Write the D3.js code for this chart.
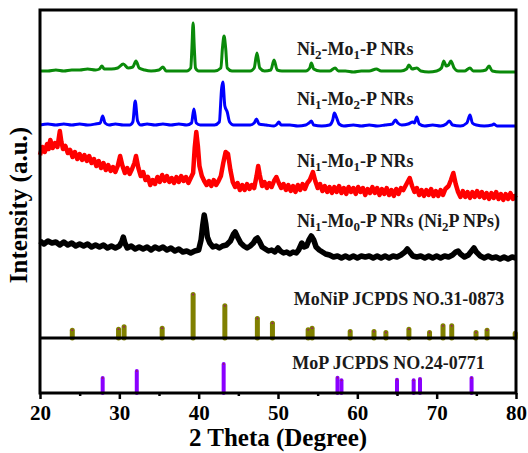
<!DOCTYPE html>
<html>
<head>
<meta charset="utf-8">
<script src="https://cdn.jsdelivr.net/npm/d3@7"></script>
<style>
  body { margin: 0; background: #fff; }
  text { font-family: "Liberation Serif", "Times New Roman", serif; font-weight: bold; }
</style>
</head>
<body>
<script>
// XRD patterns, [2theta, intensity (a.u., stacked)]
const green = [[20,267],[21,267],[22,268],[23,267],[24,268],[25,268],[26,269],[27,268],[27.5,269],[27.8,272],[28.1,269],[29,269],[29.8,270],[30.5,274],[31.1,270],[31.7,271],[32.1,277],[32.5,270],[33.2,268],[34,267],[35,268],[35.5,271],[35.9,267],[36.5,267],[37.5,267],[38.5,267],[39,270],[39.15,290],[39.3,315],[39.45,290],[39.6,270],[40,267],[41,267],[42,267],[42.8,270],[43,290],[43.2,302],[43.4,290],[43.6,270],[44.2,267],[45.5,267],[46.5,267],[47,270],[47.35,285],[47.7,270],[48.3,267],[49.1,268],[49.5,278],[49.9,268],[50.5,267],[51.5,267],[52.5,267],[53.5,267],[54,270],[54.2,275],[54.5,269],[55.3,267],[56.5,267],[57.2,270],[57.6,267],[58.5,267],[59.5,266],[60.5,267],[61.5,267],[62.4,269],[63,267],[64.5,267],[65.5,267],[66.2,269],[66.5,273],[66.9,269],[67.5,270],[68,267],[69,266],[70,267],[70.6,270],[70.9,277],[71.2,272],[71.5,273],[71.8,277],[72.2,270],[72.7,267],[73.5,267],[74.2,270],[74.6,267],[75.5,267],[76.2,268],[76.6,272],[77,267],[78,266],[79,266],[80,266]];

const blue = [[20,213],[21,214],[22,213],[23,214],[24,213],[25,214],[26,213],[27,214],[27.6,215],[27.9,222],[28.2,215],[28.7,213],[29.5,214],[30.5,213],[31.3,213],[31.7,216],[32,237],[32.3,217],[32.7,213],[33.5,214],[34.5,213],[35.5,214],[36.5,213],[37.5,214],[38.5,213],[39.1,215],[39.4,229],[39.7,215],[40.2,213],[41,213],[42,213],[42.6,216],[42.9,250],[43.05,256],[43.3,232],[43.6,226],[43.9,216],[44.4,213],[45.5,213],[46.5,213],[47,215],[47.3,219],[47.6,214],[48.5,213],[49.5,212],[49.9,214],[50.1,216],[50.4,213],[51.5,213],[52.5,212],[53.5,213],[53.9,215],[54.2,217],[54.5,213],[55.5,212],[56.5,213],[56.9,218],[57.1,225],[57.4,220],[57.7,214],[58.3,212],[59.5,213],[60.5,212],[61.5,213],[62.5,212],[63.5,213],[64.4,214],[64.8,218],[65.1,215],[65.6,213],[66.4,214],[67.0,216],[67.2,215],[67.5,221],[67.8,214],[68.5,212],[69.5,213],[70.5,212],[71.2,214],[71.6,217],[72,213],[73,212],[73.8,215],[74.2,223],[74.5,215],[75,213],[76,212],[77,213],[77.2,214],[77.6,212],[78.5,212],[79.5,212],[80,212]];

const red = [[20.0,183],[20.3,191],[20.6,186],[20.9,194],[21.1,189],[21.3,198],[21.6,190],[21.9,195],[22.2,191],[22.5,207],[22.7,196],[22.9,189],[23.2,192],[23.5,185],[23.8,188],[24.1,181],[24.4,186],[24.7,179],[25.0,184],[25.3,178],[25.6,183],[25.9,177],[26.2,182],[26.5,175],[26.8,179],[27.1,172],[27.4,177],[27.7,170],[28.0,175],[28.3,168],[28.6,173],[28.9,167],[29.2,171],[29.5,166],[29.8,172],[30.1,182],[30.4,172],[30.7,165],[31.0,170],[31.3,164],[31.6,169],[31.9,175],[32.1,182],[32.4,170],[32.7,162],[33.0,166],[33.3,158],[33.6,161],[33.9,153],[34.2,158],[34.5,154],[34.8,161],[35.1,156],[35.4,163],[35.7,157],[36.0,162],[36.3,156],[36.6,160],[36.9,155],[37.2,161],[37.5,156],[37.8,162],[38.1,157],[38.4,161],[38.7,155],[39.0,160],[39.3,165],[39.5,190],[39.7,206],[39.9,192],[40.1,172],[40.4,162],[40.7,157],[41.0,153],[41.3,157],[41.6,152],[41.9,158],[42.2,153],[42.5,157],[42.8,162],[43.1,175],[43.4,186],[43.7,184],[44.0,168],[44.3,156],[44.6,151],[44.9,155],[45.2,148],[45.5,153],[45.8,148],[46.1,154],[46.4,149],[46.7,153],[47.0,150],[47.3,162],[47.5,172],[47.7,163],[48.0,152],[48.3,156],[48.6,150],[48.9,155],[49.2,151],[49.5,157],[49.8,161],[50.1,155],[50.4,150],[50.7,154],[51.0,148],[51.3,153],[51.6,147],[51.9,152],[52.2,146],[52.5,153],[52.8,148],[53.1,154],[53.4,149],[53.7,155],[54.0,158],[54.4,166],[54.7,157],[55.0,150],[55.3,154],[55.6,147],[55.9,152],[56.2,146],[56.5,151],[56.8,145],[57.1,151],[57.4,146],[57.7,152],[58.0,145],[58.3,150],[58.6,144],[58.9,151],[59.2,146],[59.5,150],[59.8,144],[60.1,151],[60.4,146],[60.7,150],[61.0,143],[61.3,149],[61.6,145],[61.9,151],[62.2,145],[62.5,150],[62.8,143],[63.1,149],[63.4,144],[63.7,150],[64.0,143],[64.3,148],[64.6,142],[64.9,149],[65.2,144],[65.5,150],[65.8,148],[66.2,154],[66.6,160],[66.9,152],[67.2,146],[67.5,150],[67.8,143],[68.1,148],[68.4,142],[68.7,148],[69.0,143],[69.3,149],[69.6,142],[69.9,147],[70.2,142],[70.5,148],[70.8,143],[71.1,149],[71.5,152],[71.8,158],[72.1,165],[72.4,154],[72.7,146],[73.0,141],[73.3,147],[73.6,141],[73.9,146],[74.2,140],[74.5,146],[74.8,141],[75.1,147],[75.4,141],[75.7,146],[76.0,140],[76.3,145],[76.6,139],[76.9,145],[77.2,140],[77.5,146],[77.8,139],[78.1,144],[78.4,138],[78.7,144],[79.0,139],[79.3,145],[79.6,139],[80.0,143]];

const black = [[20,97],[20.5,94],[21,97],[21.5,95],[22,96],[22.5,93],[23,96],[23.5,93],[24,95],[24.5,92],[25,94],[25.5,92],[26,94],[26.5,91],[27,93],[27.5,91],[28,93],[28.5,90],[29,92],[29.5,90],[30,92],[30.3,96],[30.5,101],[30.7,95],[31,90],[31.5,92],[32,89],[32.5,91],[33,89],[33.5,91],[34,88],[34.5,91],[35,89],[35.5,91],[36,88],[36.5,90],[37,87],[37.5,89],[38,86],[38.5,87],[39,85],[39.5,87],[40,88],[40.3,98],[40.5,112],[40.7,123],[40.9,114],[41.1,101],[41.4,95],[41.8,91],[42.2,92],[42.6,90],[43,92],[43.5,93],[44,97],[44.4,104],[44.6,106],[44.9,101],[45.3,95],[45.7,92],[46.1,90],[46.5,92],[46.9,95],[47.2,99],[47.4,100],[47.7,96],[48,91],[48.4,89],[48.8,87],[49.2,88],[49.6,86],[50,90],[50.3,87],[50.7,85],[51.1,86],[51.5,84],[51.9,86],[52.3,85],[52.6,88],[53,95],[53.3,91],[53.6,92],[53.9,98],[54.2,102],[54.5,98],[54.8,91],[55.2,88],[55.6,86],[56,84],[56.5,83],[57,81],[57.5,82],[58,80],[58.5,82],[59,80],[59.5,82],[60,80],[60.5,82],[61,81],[61.5,82],[62,80],[62.5,82],[63,80],[63.5,82],[64,80],[64.5,82],[65,81],[65.5,83],[66,86],[66.3,89],[66.6,86],[67,82],[67.5,81],[68,82],[68.5,80],[69,82],[69.5,80],[70,82],[70.5,80],[71,82],[71.5,81],[72,83],[72.4,86],[72.7,87],[73,84],[73.5,81],[74,83],[74.4,87],[74.7,90],[75,86],[75.5,82],[76,80],[76.5,82],[77,80],[77.5,81],[78,79],[78.5,81],[79,79],[79.5,81],[80,80]];

// reference cards
const monipPos = [24.07,29.9,30.6,35.4,39.3,43.3,47.4,49.3,53.8,54.3,59.1,62.1,63.6,66.5,69.1,70.8,71.9,74.96,76.35,79.9];
const monipInt = [10.3,11.3,13.7,12.3,46,34.7,22,17.3,10.7,12.3,9,9,8,11.3,8,14.7,14.7,8,10.3,7.3];
const mopPos = [27.9,32.2,43.15,57.5,58.0,65.0,67.1,67.9,74.4];
const mopInt = [17,24,31,17.3,14.7,15.3,14.7,16,17];

const xTicks = [20,30,40,50,60,70,80];
const xMinor = [25,35,45,55,65,75];

const W = 528, H = 453;
const pL = 40, pR = 516, pT = 10, pMid = 338, pB = 393;

const svg = d3.select("body").append("svg").attr("width", W).attr("height", H);

const x = d3.scaleLinear().domain([20, 80]).range([pL, pR]);
const yTop = d3.scaleLinear().domain([0, 328]).range([pMid, pT]);
const yBot = d3.scaleLinear().domain([0, 55]).range([pB, pMid]);

const series = [
    {data: black, color: "#000000", w: 5.5, curve: d3.curveLinear},
    {data: red, color: "#ff0000", w: 4.5, curve: d3.curveLinear},
    {data: blue, color: "#0000ff", w: 3, curve: d3.curveMonotoneX},
    {data: green, color: "#0a8a0a", w: 3, curve: d3.curveMonotoneX}
];

series.forEach(function(s) {
    const line = d3.line()
        .x(function(d) { return x(d[0]); })
        .y(function(d) { return yTop(d[1]); })
        .curve(s.curve);
    svg.append("path")
        .datum(s.data)
        .attr("d", line)
        .attr("fill", "none")
        .attr("stroke", s.color)
        .attr("stroke-width", s.w)
        .attr("stroke-linejoin", "round");
});

// stick patterns
function sticks(pos, vals, y, color, w) {
    const g = svg.append("g");
    g.selectAll("line")
        .data(pos)
        .enter()
        .append("line")
        .attr("x1", function(d) { return x(d); })
        .attr("x2", function(d) { return x(d); })
        .attr("y1", y(0))
        .attr("y2", function(d, i) { return y(vals[i]) + w / 2; })
        .attr("stroke", color)
        .attr("stroke-width", w)
        .attr("stroke-linecap", "round");
    g.selectAll("circle")
        .data(pos)
        .enter()
        .append("circle")
        .attr("cx", function(d) { return x(d); })
        .attr("cy", function(d, i) { return y(vals[i]) + w / 2; })
        .attr("r", 0.9)
        .attr("fill", "#9a1a6a");
}
sticks(monipPos, monipInt, yTop, "#808000", 5);
sticks(mopPos, mopInt, yBot, "#8a00ff", 4);

// frame + divider
svg.append("rect")
    .attr("x", pL).attr("y", pT)
    .attr("width", pR - pL).attr("height", pB - pT)
    .attr("fill", "none").attr("stroke", "#000").attr("stroke-width", 3);
svg.append("line")
    .attr("x1", pL).attr("x2", pR)
    .attr("y1", pMid).attr("y2", pMid)
    .attr("stroke", "#000").attr("stroke-width", 3);

// x axis
const ax = svg.append("g")
    .attr("transform", "translate(0," + pB + ")")
    .call(d3.axisBottom(x).tickValues(xTicks).tickSize(6).tickPadding(6).tickFormat(d3.format("d")));
ax.select(".domain").remove();
ax.selectAll("line").attr("stroke-width", 2.5);
ax.selectAll("text")
    .attr("font-size", 21)
    .attr("fill", "#000")
    .style("font-family", "'Liberation Serif', 'Times New Roman', serif")
    .style("font-weight", "bold");

const axm = svg.append("g")
    .attr("transform", "translate(0," + pB + ")")
    .call(d3.axisBottom(x).tickValues(xMinor).tickSize(3).tickFormat(""));
axm.select(".domain").remove();
axm.selectAll("line").attr("stroke-width", 2.5);

svg.append("text")
    .attr("x", (pL + pR) / 2)
    .attr("y", 446)
    .attr("text-anchor", "middle")
    .attr("font-size", 25)
    .text("2 Theta (Degree)");

svg.append("text")
    .attr("transform", "translate(27,205) rotate(-90)")
    .attr("text-anchor", "middle")
    .attr("font-size", 25)
    .text("Intensity (a.u.)");

// sample labels (with subscripts)
const labelX = 52.4;
const labels = [
    {y: 283, parts: [["Ni",0],["2",1],["-Mo",0],["1",1],["-P NRs",0]]},
    {y: 233, parts: [["Ni",0],["1",1],["-Mo",0],["2",1],["-P NRs",0]]},
    {y: 171, parts: [["Ni",0],["1",1],["-Mo",0],["1",1],["-P NRs",0]]},
    {y: 111, parts: [["Ni",0],["1",1],["-Mo",0],["0",1],["-P NRs (Ni",0],["2",1],["P NPs)",0]]}
];
labels.forEach(function(l) {
    const t = svg.append("text")
        .attr("x", x(labelX))
        .attr("y", yTop(l.y))
        .attr("font-size", 18)
        .attr("fill", "#1a1a1a");
    l.parts.forEach(function(p, i) {
        const sp = t.append("tspan").text(p[0]);
        if (p[1]) sp.attr("font-size", 13).attr("dy", 4);
        else if (i > 0) sp.attr("dy", -4);
    });
});

svg.append("text")
    .attr("x", x(52.0)).attr("y", yTop(33))
    .attr("font-size", 18).attr("fill", "#1a1a1a")
    .text("MoNiP JCPDS NO.31-0873");
svg.append("text")
    .attr("x", x(51.8)).attr("y", yBot(24))
    .attr("font-size", 18).attr("fill", "#1a1a1a")
    .text("MoP JCPDS NO.24-0771");
</script>
</body>
</html>
